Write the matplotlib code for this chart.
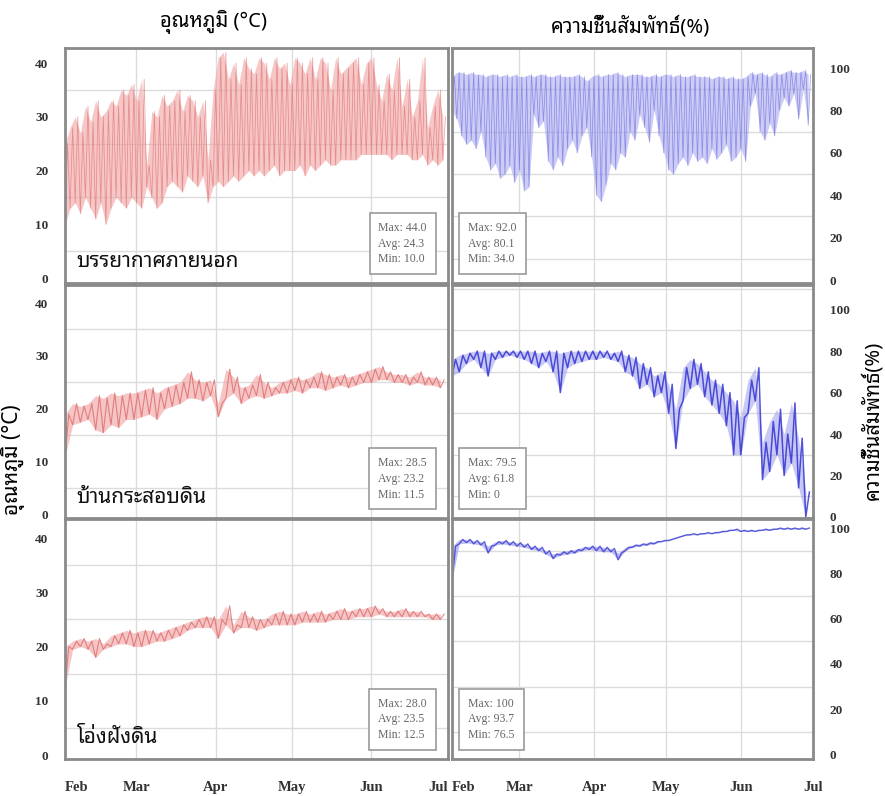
import numpy as np
import matplotlib
matplotlib.use("Agg")
import matplotlib.pyplot as plt
import matplotlib.dates as mdates
from matplotlib.ticker import MultipleLocator

THAI = ['Noto Sans Thai Looped', 'DejaVu Sans']
SERIF = 'Liberation Serif'

start = np.datetime64('2019-02-01T00')

# outdoor temperature, every 2 days (daily low / high)
out_t_hi = [25, 28, 30, 27, 32, 29, 33, 30, 31, 33, 32, 35, 34, 36,
            33, 37, 21, 31, 30, 34, 32, 33, 35, 31, 34, 33, 30, 33, 22, 35,
            41, 42, 37, 40, 36, 41, 39, 38, 41, 40, 37, 41, 39, 40, 36,
            41, 40, 38, 41, 37, 41, 40, 35, 41, 38, 39, 40, 41, 36, 40,
            41, 36, 33, 38, 35, 41, 32, 37, 30, 33, 41, 28, 32, 35, 30]
out_t_lo = [10, 13, 14, 12, 15, 13, 11, 14, 10, 13, 15, 14, 13, 15,
            14, 13, 17, 15, 13, 14, 17, 18, 17, 16, 19, 18, 17, 19, 14, 17,
            18, 17, 18, 19, 18, 19, 20, 19, 20, 19, 20, 21, 19, 20, 20,
            20, 21, 19, 21, 20, 21, 22, 21, 21, 22, 22, 22, 22, 23, 23,
            23, 23, 23, 23, 22, 23, 23, 23, 22, 22, 23, 21, 22, 21, 22]

# outdoor humidity, every 2 days
out_h_hi = [96, 98, 98, 97, 98, 97, 97, 96, 97, 97, 96, 97, 96, 97,
            96, 96, 97, 96, 97, 97, 96, 96, 97, 96, 96, 96, 97, 96, 94, 96,
            97, 96, 97, 97, 98, 97, 96, 97, 97, 97, 96, 96, 97, 96, 97,
            97, 96, 97, 96, 96, 97, 96, 96, 96, 95, 96, 96, 95, 96, 95,
            95, 96, 98, 97, 98, 97, 96, 98, 97, 98, 99, 98, 98, 99, 97]
out_h_lo = [80, 76, 68, 64, 66, 62, 70, 58, 52, 55, 48, 50, 54, 46,
            52, 42, 44, 78, 72, 75, 56, 52, 58, 54, 62, 66, 60, 68, 72, 58,
            40, 37, 45, 55, 52, 60, 58, 70, 66, 78, 72, 65, 80, 68, 60,
            52, 50, 55, 58, 54, 60, 56, 58, 55, 62, 57, 60, 64, 56, 58,
            62, 56, 82, 88, 70, 66, 74, 68, 80, 86, 82, 88, 76, 90, 73]

# earth-bag house, every 3 days
bag_t_hi = [19, 21, 20.5, 21, 22.5, 22, 23, 22.5, 23, 23,
            23.5, 24, 23, 24, 24.5, 25, 27, 25.5, 25, 25.5,
            21, 27.5, 26, 24, 24.5, 26.5, 25, 24, 25, 25.5,
            26, 25.5, 26, 27, 26.5, 26, 26.5, 26, 26.5, 27,
            27.5, 28, 27, 26.5, 26.5, 26, 27, 26, 26, 25.5]
bag_t_lo = [11, 17, 17.5, 18, 16, 15.5, 17, 16.5, 18, 18,
            18.5, 19, 18, 20, 20.5, 21, 22, 22, 21.5, 22.5,
            18.5, 22, 23, 21, 22, 22.5, 22, 22.5, 23, 23,
            23.5, 23, 24, 24, 23.5, 24, 24.5, 24, 24.5, 25,
            25, 25.5, 25.5, 25, 25, 24.5, 25, 24.5, 24.5, 24]
bag_h_hi = [76, 78, 79, 80, 80, 79, 80, 80, 80, 80,
            80, 80, 79, 80, 80, 79, 80, 80, 80, 80,
            80, 80, 79, 80, 78, 77, 74, 72, 68, 70,
            64, 52, 72, 76, 74, 70, 66, 64, 60, 56,
            48, 66, 72, 36, 46, 52, 40, 55, 38, 12]
bag_h_lo = [68, 70, 74, 76, 72, 68, 76, 77, 78, 77,
            76, 74, 72, 75, 70, 60, 72, 74, 75, 76,
            76, 77, 76, 75, 70, 68, 62, 64, 58, 60,
            50, 33, 56, 62, 64, 58, 54, 50, 44, 30,
            30, 50, 56, 18, 22, 30, 20, 26, 14, 0]

# buried jar, every 3 days
jar_t_hi = [20, 21, 21.5, 21, 21.5, 20.5, 22, 22.5, 23, 22.5,
            23, 23, 22.5, 23, 23.5, 24, 24.5, 25, 25.5, 25.5,
            25, 27.5, 24, 26.5, 25.5, 25, 25, 26, 26.5, 26,
            26, 26.5, 26, 26.5, 26, 26.5, 27, 26.5, 27, 27,
            27.5, 27, 26.5, 26.5, 27, 26.5, 26.5, 26, 26, 26]
jar_t_lo = [12.5, 19.5, 20, 19.5, 18, 19.5, 20, 20.5, 20.5, 20,
            20, 20.5, 21, 21, 21.5, 22, 23, 23.5, 23.5, 23.5,
            21.5, 24, 22.5, 23.5, 23.5, 23, 23.5, 24, 24, 24,
            24, 24.5, 24.5, 24.5, 24.5, 25, 25, 25, 25.5, 25.5,
            25.5, 26, 25.5, 25.5, 25.5, 25.5, 25.5, 25.5, 25, 25]
jar_h_hi = [92, 95, 95, 94.5, 94, 92, 94, 94.5, 94, 93.5,
            93, 92, 91.5, 90, 88.5, 89.5, 90, 90.5, 91.5, 92,
            92, 91.5, 91, 89, 91.5, 92.5, 93, 93.5, 94, 94.5,
            95, 96, 97, 97.5, 97.5, 98, 98, 98.5, 99, 99.5,
            99, 99, 99, 99.5, 99.5, 100, 100, 100, 100, 100]
jar_h_lo = [77, 93, 93.5, 93, 92.5, 89, 92.5, 93, 92.5, 92,
            91.5, 90.5, 90, 88.5, 86.5, 88, 88.5, 89, 90, 90.5,
            90, 89.5, 89.5, 86, 90, 91.5, 92, 92.5, 93, 94,
            94.5, 95.5, 96.5, 97, 97, 97.5, 97.5, 98, 98.5, 99,
            98.5, 98.5, 98.5, 99, 99, 99.5, 99.5, 99.5, 99.5, 99.5]

site_names = ['บรรยากาศภายนอก', 'บ้านกระสอบดิน', 'โอ่งฝังดิน']
temp_stats = [(44.0, 24.3, 10.0), (28.5, 23.2, 11.5), (28.0, 23.5, 12.5)]
hum_stats = [('92.0', '80.1', '34.0'), ('79.5', '61.8', '0'), ('100', '93.7', '76.5')]


def times(n, step_days, offset=0.0):
    hrs = [int(round((step_days * k + offset) * 24)) for k in range(n)]
    return (start + np.array(hrs, dtype='timedelta64[h]')).astype('datetime64[ms]').astype(object)


def zigzag(lo, hi, step_days):
    # readings alternate low (start of step) / high (half a step later)
    n = len(lo)
    t_lo = times(n, step_days)
    t_hi = times(n, step_days, step_days / 2)
    t = np.empty(2 * n, dtype=object)
    y = np.empty(2 * n)
    t[0::2], t[1::2] = t_lo, t_hi
    y[0::2], y[1::2] = lo, hi
    return t_lo, t, y


fig = plt.figure(figsize=(8.85, 7.96), dpi=100)
W, H = 885, 796


def px_axes(x0, y0, x1, y1):
    return fig.add_axes([x0 / W, 1 - y1 / H, (x1 - x0) / W, (y1 - y0) / H])


rows = [(48, 283), (285, 518), (519, 759)]
left_cols = (65, 448)
right_cols = (452, 813)
temp_ylims = [(-0.9, 42.8), (-0.6, 43.4), (-0.7, 43.5)]
hum_ylims = [(-1.4, 109.5), (-0.5, 111.9), (-2.0, 104.0)]

temp_series = [(out_t_lo, out_t_hi, 2), (bag_t_lo, bag_t_hi, 3), (jar_t_lo, jar_t_hi, 3)]
hum_series = [(out_h_lo, out_h_hi, 2), (bag_h_lo, bag_h_hi, 3), (jar_h_lo, jar_h_hi, 3)]
temp_line = ['#dc6464', '#dd6a6a', '#dd6a6a']
temp_fill = ['#f0a3a3', '#f0a0a0', '#f0a0a0']
temp_lw = [0.55, 0.8, 0.8]
temp_alpha = [0.6, 0.8, 0.8]
hum_line = ['#6464de', '#2a2ad0', '#3a3ad4']
hum_fill = ['#a3a3ee', '#9c9ced', '#8a8ae8']
hum_lw = [0.55, 1.1, 1.0]
hum_alpha = [0.6, 0.8, 0.8]

x0 = np.datetime64('2019-02-01').astype(object)
x1 = np.datetime64('2019-07-01').astype(object)


def style(ax, side, show_x):
    for s in ax.spines.values():
        s.set_color('#8a8a8a')
        s.set_linewidth(2)
    ax.set_xlim(x0, x1)
    ax.xaxis.set_major_locator(mdates.MonthLocator())
    ax.xaxis.set_major_formatter(mdates.DateFormatter('%b'))
    ax.grid(True, which='major', axis='x', color='#dcdcdc', lw=1)
    ax.grid(True, which='minor', axis='y', color='#dcdcdc', lw=1)
    ax.set_axisbelow(True)
    ax.tick_params(which='both', length=0)
    ax.tick_params(axis='y', pad=12, labelsize=9.5, labelcolor='#333333')
    ax.tick_params(axis='x', pad=16, labelsize=10.5, labelcolor='#333333')
    if side == 'right':
        ax.yaxis.tick_right()
    for lab in ax.get_xticklabels() + ax.get_yticklabels():
        lab.set_fontfamily(SERIF)
        lab.set_fontweight('bold')
    if not show_x:
        ax.set_xticklabels([])
    else:
        labs = ax.get_xticklabels()
        if side == 'left':
            labs[0].set_ha('left')
            labs[-1].set_ha('right')
        else:
            labs[0].set_ha('left')


def stats_text(mx, av, mn):
    return 'Max: %s\nAvg: %s\nMin: %s' % (mx, av, mn)


box = dict(boxstyle='square,pad=0.75', fc='white', ec='#9a9a9a', lw=1.2)

for i, (ya, yb) in enumerate(rows):
    last = i == 2
    # temperature
    ax = px_axes(left_cols[0], ya, left_cols[1], yb)
    lo, hi, step = temp_series[i]
    t_lo, t, y = zigzag(lo, hi, step)
    ax.fill_between(t_lo, lo, hi, color=temp_fill[i], alpha=0.6, lw=0)
    ax.plot(t, y, color=temp_line[i], lw=temp_lw[i], alpha=temp_alpha[i])
    ax.set_ylim(*temp_ylims[i])
    ax.yaxis.set_major_locator(MultipleLocator(10))
    ax.yaxis.set_minor_locator(MultipleLocator(5))
    style(ax, 'left', last)
    mx, av, mn = temp_stats[i]
    ax.text(0.945, 0.075, stats_text('%.1f' % mx, '%.1f' % av, '%.1f' % mn),
            transform=ax.transAxes, ha='right', va='bottom', multialignment='left',
            fontsize=8.5, family=SERIF, color='#666666', linespacing=1.4, bbox=box)
    ax.text(0.03, 0.09, site_names[i], transform=ax.transAxes, ha='left',
            va='center', fontsize=15, family=THAI, color='#111111')

    # humidity
    ax = px_axes(right_cols[0], ya, right_cols[1], yb)
    lo, hi, step = hum_series[i]
    t_lo, t, y = zigzag(lo, hi, step)
    ax.fill_between(t_lo, lo, hi, color=hum_fill[i], alpha=0.55, lw=0)
    ax.plot(t, y, color=hum_line[i], lw=hum_lw[i], alpha=hum_alpha[i])
    ax.set_ylim(*hum_ylims[i])
    ax.yaxis.set_major_locator(MultipleLocator(20))
    ax.yaxis.set_minor_locator(MultipleLocator(10))
    style(ax, 'right', last)
    ax.text(0.045, 0.075, stats_text(*hum_stats[i]),
            transform=ax.transAxes, ha='left', va='bottom', multialignment='left',
            fontsize=8.5, family=SERIF, color='#666666', linespacing=1.4, bbox=box)

fig.text(213 / W, 1 - 22 / H, 'อุณหภูมิ (°C)', ha='center', va='center',
         fontsize=14.5, family=THAI)
fig.text(630 / W, 1 - 27 / H, 'ความชื้นสัมพัทธ์(%)', ha='center', va='center',
         fontsize=14.5, family=THAI)
fig.text(13 / W, 1 - 460 / H, 'อุณหภูมิ (°C)', ha='center', va='center',
         fontsize=15, family=THAI, rotation=90)
fig.text(873 / W, 1 - 420 / H, 'ความชื้นสัมพัทธ์(%)', ha='center', va='center',
         fontsize=14.5, family=THAI, rotation=90)

fig.savefig('out.png', dpi=100)
